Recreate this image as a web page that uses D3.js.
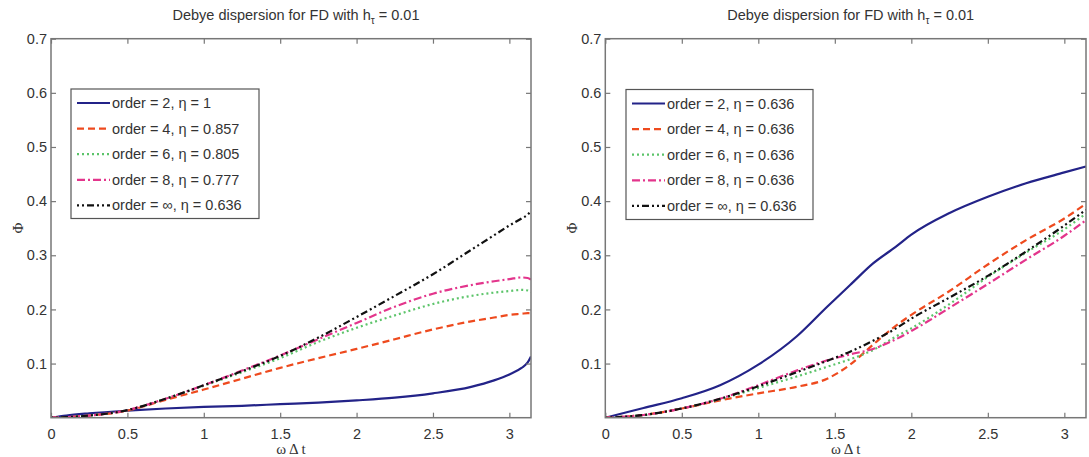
<!DOCTYPE html>
<html>
<head>
<meta charset="utf-8">
<script src="https://cdn.jsdelivr.net/npm/d3@7"></script>
<style>
  body { margin: 0; background: #fff; }
  svg { display: block; font-family: "Liberation Sans", Arial, sans-serif; }
</style>
</head>
<body>
<svg id="chart" width="1089" height="457"></svg>
<script>
const PI = Math.PI;

// left panel (h_tau = 0.01, eta per order)
const xLeft = [0, 0.1, 0.25, 0.5, 0.75, 1.0, 1.25, 1.5, 1.75, 2.0, 2.25, 2.5, 2.75, 2.9, 3.0, 3.08, 3.12, PI];
const order2Left   = [0, 0.004, 0.008, 0.013, 0.017, 0.020, 0.022, 0.025, 0.028, 0.032, 0.037, 0.045, 0.057, 0.069, 0.080, 0.092, 0.102, 0.113];
const order4Left   = [0, 0.001, 0.004, 0.013, 0.033, 0.052, 0.072, 0.092, 0.110, 0.127, 0.145, 0.163, 0.178, 0.185, 0.190, 0.192, 0.193, 0.193];
const order6Left   = [0, 0.001, 0.004, 0.014, 0.035, 0.059, 0.084, 0.110, 0.140, 0.166, 0.189, 0.210, 0.225, 0.231, 0.234, 0.236, 0.235, 0.232];
const order8Left   = [0, 0.001, 0.004, 0.014, 0.035, 0.060, 0.087, 0.115, 0.145, 0.175, 0.205, 0.229, 0.245, 0.252, 0.256, 0.259, 0.258, 0.255];
const orderInfLeft = [0, 0.001, 0.004, 0.014, 0.035, 0.060, 0.086, 0.114, 0.148, 0.186, 0.225, 0.265, 0.310, 0.337, 0.355, 0.368, 0.375, 0.382];

// right panel (all eta = 0.636)
const xRight = [0, 0.25, 0.5, 0.75, 1.0, 1.25, 1.45, 1.6, 1.75, 1.9, 2.0, 2.25, 2.5, 2.75, 3.0, PI];
const order2Right   = [0, 0.018, 0.036, 0.060, 0.098, 0.150, 0.205, 0.245, 0.285, 0.316, 0.338, 0.378, 0.408, 0.433, 0.453, 0.464];
const order4Right   = [0, 0.005, 0.017, 0.032, 0.045, 0.057, 0.072, 0.098, 0.135, 0.170, 0.190, 0.234, 0.283, 0.328, 0.368, 0.395];
const order6Right   = [0, 0.005, 0.017, 0.034, 0.055, 0.076, 0.094, 0.108, 0.125, 0.150, 0.165, 0.210, 0.260, 0.305, 0.348, 0.377];
const order8Right   = [0, 0.005, 0.017, 0.035, 0.060, 0.087, 0.106, 0.117, 0.127, 0.145, 0.160, 0.203, 0.247, 0.292, 0.336, 0.365];
const orderInfRight = [0, 0.005, 0.017, 0.035, 0.058, 0.084, 0.105, 0.122, 0.142, 0.165, 0.183, 0.222, 0.262, 0.307, 0.355, 0.384];

const labelsLeft  = ["order = 2, \u03B7 = 1", "order = 4, \u03B7 = 0.857", "order = 6, \u03B7 = 0.805", "order = 8, \u03B7 = 0.777", "order = \u221E, \u03B7 = 0.636"];
const labelsRight = ["order = 2, \u03B7  = 0.636", "order = 4, \u03B7  = 0.636", "order = 6, \u03B7  = 0.636", "order = 8, \u03B7  = 0.636", "order = \u221E, \u03B7  = 0.636"];

const xTicks = [0, 0.5, 1, 1.5, 2, 2.5, 3];
const yTicks = [0.1, 0.2, 0.3, 0.4, 0.5, 0.6, 0.7];

const styles = [
  { color: "#232388", dash: null },
  { color: "#ee4a1e", dash: "7,4" },
  { color: "#5cc46a", dash: "2,3" },
  { color: "#e3358c", dash: "8,3,2,3" },
  { color: "#111111", dash: "2,3,2,3,7,3" }
];

const svg = d3.select("#chart");
const yTop = 38.7, yBottom = 417.7;
const textColor = "#333";
const axisColor = "#777";

const panels = [
  { x0: 51, x1: 531, xs: xLeft, series: [order2Left, order4Left, order6Left, order8Left, orderInfLeft], labels: labelsLeft, legend: { x: 71, y: 89, w: 188, h: 129.5 } },
  { x0: 605.3, x1: 1086, xs: xRight, series: [order2Right, order4Right, order6Right, order8Right, orderInfRight], labels: labelsRight, legend: { x: 626, y: 89.5, w: 187, h: 130 } }
];

panels.forEach((p, pi) => {
  const x = d3.scaleLinear().domain([0, PI]).range([p.x0, p.x1]);
  const y = d3.scaleLinear().domain([0, 0.7]).range([yBottom, yTop]);
  const g = svg.append("g");

  const clipId = "clip" + pi;
  g.append("clipPath").attr("id", clipId)
    .append("rect").attr("x", p.x0).attr("y", yTop).attr("width", p.x1 - p.x0).attr("height", yBottom - yTop);

  // lines
  const line = d3.line().x(d => x(d[0])).y(d => y(d[1])).curve(d3.curveMonotoneX);
  p.series.forEach((vals, i) => {
    g.append("path")
      .attr("clip-path", `url(#${clipId})`)
      .attr("d", line(p.xs.map((xv, j) => [xv, vals[j]])))
      .attr("fill", "none")
      .attr("stroke", styles[i].color)
      .attr("stroke-width", 2.2)
      .attr("stroke-dasharray", styles[i].dash);
  });

  // axes (inward ticks, box)
  const tk = -5;
  g.append("g").attr("transform", `translate(0,${yBottom})`)
    .call(d3.axisBottom(x).tickValues(xTicks).tickSizeInner(tk).tickSizeOuter(0).tickPadding(11).tickFormat(d3.format("")))
    .call(a => a.select(".domain").remove());
  g.append("g").attr("transform", `translate(0,${yTop})`)
    .call(d3.axisTop(x).tickValues(xTicks).tickSizeInner(tk).tickSizeOuter(0).tickFormat(""))
    .call(a => a.select(".domain").remove());
  g.append("g").attr("transform", `translate(${p.x0},0)`)
    .call(d3.axisLeft(y).tickValues(yTicks).tickSizeInner(tk).tickSizeOuter(0).tickPadding(4).tickFormat(d3.format("")))
    .call(a => a.select(".domain").remove());
  g.append("g").attr("transform", `translate(${p.x1},0)`)
    .call(d3.axisRight(y).tickValues(yTicks).tickSizeInner(tk).tickSizeOuter(0).tickFormat(""))
    .call(a => a.select(".domain").remove());

  g.selectAll(".tick line").attr("stroke", axisColor).attr("stroke-width", 1.2);
  g.selectAll(".tick text").attr("fill", textColor).style("font-size", "14.5px").style("font-family", "Liberation Sans, Arial, sans-serif");

  g.append("rect")
    .attr("x", p.x0).attr("y", yTop).attr("width", p.x1 - p.x0).attr("height", yBottom - yTop)
    .attr("fill", "none").attr("stroke", axisColor).attr("stroke-width", 1.5);

  // title
  const cx = (p.x0 + p.x1) / 2 + 5;
  const title = g.append("text").attr("x", cx).attr("y", 20).attr("text-anchor", "middle")
    .attr("fill", textColor).style("font-size", "14.5px");
  title.append("tspan").text("Debye dispersion for FD with h");
  title.append("tspan").attr("dy", 4).style("font-size", "10px").text("\u03C4");
  title.append("tspan").attr("dy", -4).text(" = 0.01");

  // axis labels
  g.append("text").attr("x", (p.x0 + p.x1) / 2).attr("y", 454).attr("text-anchor", "middle")
    .attr("fill", textColor).style("font-family", "Liberation Serif, serif").style("font-size", "15px")
    .text("\u03C9 \u0394 t");
  g.append("text").attr("transform", `translate(${p.x0 - 28},228) rotate(-90)`).attr("text-anchor", "middle")
    .attr("fill", textColor).style("font-family", "Liberation Serif, serif").style("font-size", "15px")
    .text("\u03A6");

  // legend
  const L = p.legend;
  const lg = g.append("g");
  lg.append("rect").attr("x", L.x).attr("y", L.y).attr("width", L.w).attr("height", L.h)
    .attr("fill", "#fff").attr("stroke", "#555").attr("stroke-width", 1.2);
  p.labels.forEach((lab, i) => {
    const ly = L.y + 14 + i * 25.6;
    lg.append("line").attr("x1", L.x + 6).attr("x2", L.x + 39).attr("y1", ly).attr("y2", ly)
      .attr("stroke", styles[i].color).attr("stroke-width", 2.2).attr("stroke-dasharray", styles[i].dash);
    lg.append("text").attr("x", L.x + 41).attr("y", ly + 5).attr("fill", textColor)
      .style("font-size", "14.5px").text(lab);
  });
});
</script>
</body>
</html>
